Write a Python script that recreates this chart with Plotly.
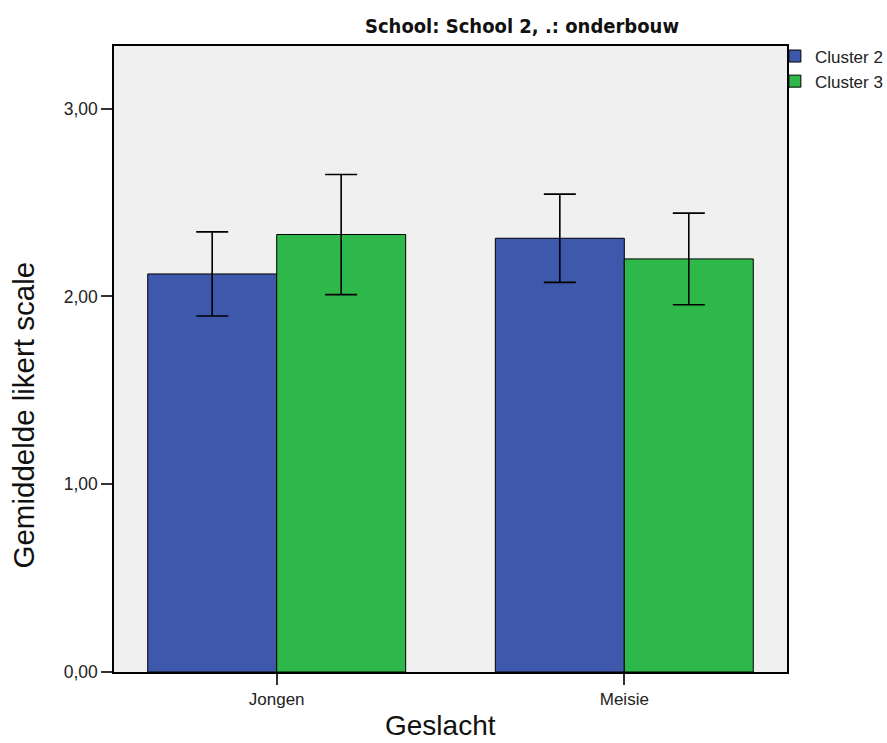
import plotly.graph_objects as go

# Mean likert score per gender, split by cluster, with error bar half-widths
categories = ["Jongen", "Meisie"]
cluster2_mean = [2.12, 2.31]
cluster2_err = [0.224, 0.235]
cluster3_mean = [2.33, 2.20]
cluster3_err = [0.32, 0.244]

y_tick_vals = [0, 1, 2, 3]
y_tick_text = ["0,00", "1,00", "2,00", "3,00"]

x_title = "Geslacht"
y_title = "Gemiddelde likert scale"

BLUE = "#3E58AC"
GREEN = "#2EB84A"

W, H = 887, 743
M_L, M_R, M_T, M_B = 114, 100, 46, 71
PLOT_W = W - M_L - M_R
PLOT_H = H - M_T - M_B

fig = go.Figure()
fig.add_trace(go.Bar(
    x=categories, y=cluster2_mean, name="Cluster 2",
    marker=dict(color=BLUE, line=dict(color="black", width=1)),
    error_y=dict(type="data", array=cluster2_err, color="black",
                 thickness=1.6, width=16),
))
fig.add_trace(go.Bar(
    x=categories, y=cluster3_mean, name="Cluster 3",
    marker=dict(color=GREEN, line=dict(color="black", width=1)),
    error_y=dict(type="data", array=cluster3_err, color="black",
                 thickness=1.6, width=16),
))

fig.update_layout(
    width=W, height=H,
    margin=dict(l=M_L, r=M_R, t=M_T, b=M_B, autoexpand=False),
    paper_bgcolor="white",
    plot_bgcolor="#F0F0F0",
    barmode="group",
    bargap=0.258,
    bargroupgap=0,
    font=dict(family="Liberation Sans, Arial, sans-serif", color="#222222"),
    title=dict(
        text="<b>School: School 2, .: onderbouw</b>",
        x=522 / W, xanchor="center", y=1 - 26 / H, yanchor="middle",
        font=dict(family="DejaVu Sans Condensed, Liberation Sans Narrow, Liberation Sans, sans-serif",
                  size=20, color="#111111"),
    ),
    legend=dict(
        x=0.982, xanchor="left", y=1.012, yanchor="top",
        font=dict(family="Liberation Sans, Arial, sans-serif", size=17, color="#222222"),
        bgcolor="rgba(0,0,0,0)",
        tracegroupgap=0,
    ),
    showlegend=True,
)

# Axis titles placed as paper-anchored text
fig.add_annotation(
    text=x_title, xref="paper", yref="paper",
    x=(440 - M_L) / PLOT_W, y=-(725 - (H - M_B)) / PLOT_H,
    xanchor="center", yanchor="middle", showarrow=False,
    font=dict(size=28, color="#111111"),
)
fig.add_annotation(
    text=y_title, xref="paper", yref="paper", textangle=-90,
    x=(22.5 - M_L) / PLOT_W, y=((H - M_B) - 415) / PLOT_H,
    xanchor="center", yanchor="middle", showarrow=False,
    font=dict(size=29.5, color="#111111"),
)

fig.update_xaxes(
    range=[-0.468, 1.468],
    showline=True, linecolor="black", linewidth=1.5, mirror=True,
    ticks="outside", ticklen=11, tickwidth=1.5, tickcolor="#333333",
    tickfont=dict(size=17, color="#222222"),
    showgrid=False, zeroline=False,
)
fig.update_yaxes(
    range=[0, 3.334],
    tickmode="array", tickvals=y_tick_vals, ticktext=y_tick_text,
    showline=True, linecolor="black", linewidth=1.5, mirror=True,
    ticks="outside", ticklen=11, tickwidth=2, tickcolor="#333333",
    tickfont=dict(size=17.5, color="#222222"),
    showgrid=False, zeroline=False,
)

fig.write_html("out.html")
